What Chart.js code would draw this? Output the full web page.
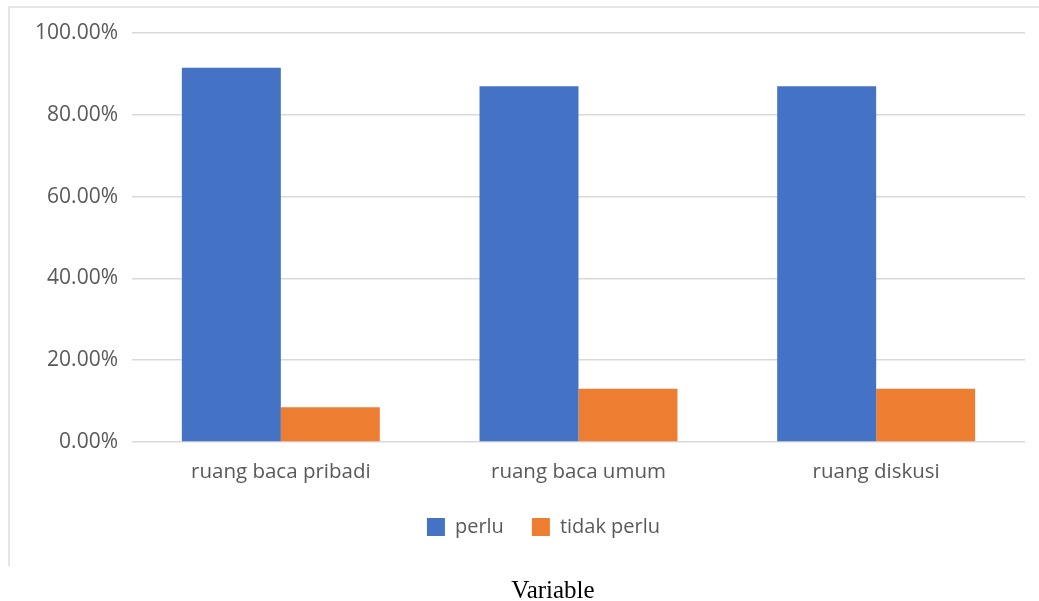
<!DOCTYPE html>
<html>
<head>
<meta charset="utf-8">
<script src="https://cdn.jsdelivr.net/npm/chart.js@4"></script>
<style>
  html, body { margin: 0; padding: 0; background: #ffffff; }
  body { width: 1039px; height: 601px; position: relative; overflow: hidden; }
  #frame {
    position: absolute; left: 8px; top: 6px; width: 1100px; height: 560px;
    border-left: 2px solid #e6e6e6; border-top: 2px solid #e6e6e6;
    box-sizing: border-box;
  }
  #wrap { position: absolute; left: 0; top: 0; width: 1039px; height: 601px; }
  #caption {
    position: absolute; left: 0; width: 1106px; top: 575px;
    text-align: center; font-family: "Liberation Serif", "Times New Roman", serif;
    font-size: 25px; color: #000000; line-height: 30px;
  }
</style>
</head>
<body>
<div id="frame"></div>
<div id="wrap"><canvas id="chart" width="1039" height="601"></canvas></div>
<div id="caption">Variable</div>
<script>
// Categories and shares (percent) per answer
const categories = ["ruang baca pribadi", "ruang baca umum", "ruang diskusi"];
const perlu = [91.5, 87.0, 87.0];
const tidakPerlu = [8.5, 13.0, 13.0];
const yTickMin = 0;
const yTickMax = 100;
const yTickStep = 20;

const seriesNames = ["perlu", "tidak perlu"];
const seriesColors = ["#4472C4", "#ED7D31"];
const textColor = "#595959";
const gridColor = "#d9d9d9";

// Centre the legend row under the middle of the chart frame
const legendCenterX = 543.5;
const legendShift = {
  id: "legendShift",
  afterLayout(chart) {
    const lg = chart.legend;
    if (!lg) return;
    const dx = legendCenterX - (lg.left + lg.right) / 2;
    lg.left += dx;
    lg.right += dx;
  }
};

new Chart(document.getElementById("chart"), {
  type: "bar",
  data: {
    labels: categories,
    datasets: [
      { label: seriesNames[0], data: perlu, backgroundColor: seriesColors[0], borderWidth: 0 },
      { label: seriesNames[1], data: tidakPerlu, backgroundColor: seriesColors[1], borderWidth: 0 }
    ]
  },
  plugins: [legendShift],
  options: {
    responsive: false,
    devicePixelRatio: 1,
    animation: false,
    events: [],
    datasets: { bar: { categoryPercentage: 0.665, barPercentage: 1.0 } },
    layout: { padding: { left: 0, right: 14, top: 33, bottom: 54 } },
    plugins: {
      tooltip: { enabled: false },
      legend: {
        position: "bottom",
        labels: {
          boxWidth: 18, boxHeight: 18, padding: 28,
          color: textColor,
          font: { family: "'Open Sans', sans-serif", size: 20 }
        }
      }
    },
    scales: {
      x: {
        grid: { display: false, drawTicks: false },
        border: { display: false },
        ticks: {
          color: textColor, padding: 18, maxRotation: 0,
          font: { family: "'Open Sans', sans-serif", size: 20.5 }
        },
        afterFit: (scale) => { scale.height = 47; }
      },
      y: {
        min: yTickMin, max: yTickMax,
        grid: { color: gridColor, lineWidth: 1.5, drawTicks: false },
        border: { display: false },
        ticks: {
          stepSize: yTickStep,
          color: textColor, padding: 14,
          font: { family: "'Open Sans', sans-serif", size: 21 },
          callback: (v) => Number(v).toFixed(2) + "%"
        },
        afterFit: (scale) => { scale.width = 132; }
      }
    }
  }
});
</script>
</body>
</html>
